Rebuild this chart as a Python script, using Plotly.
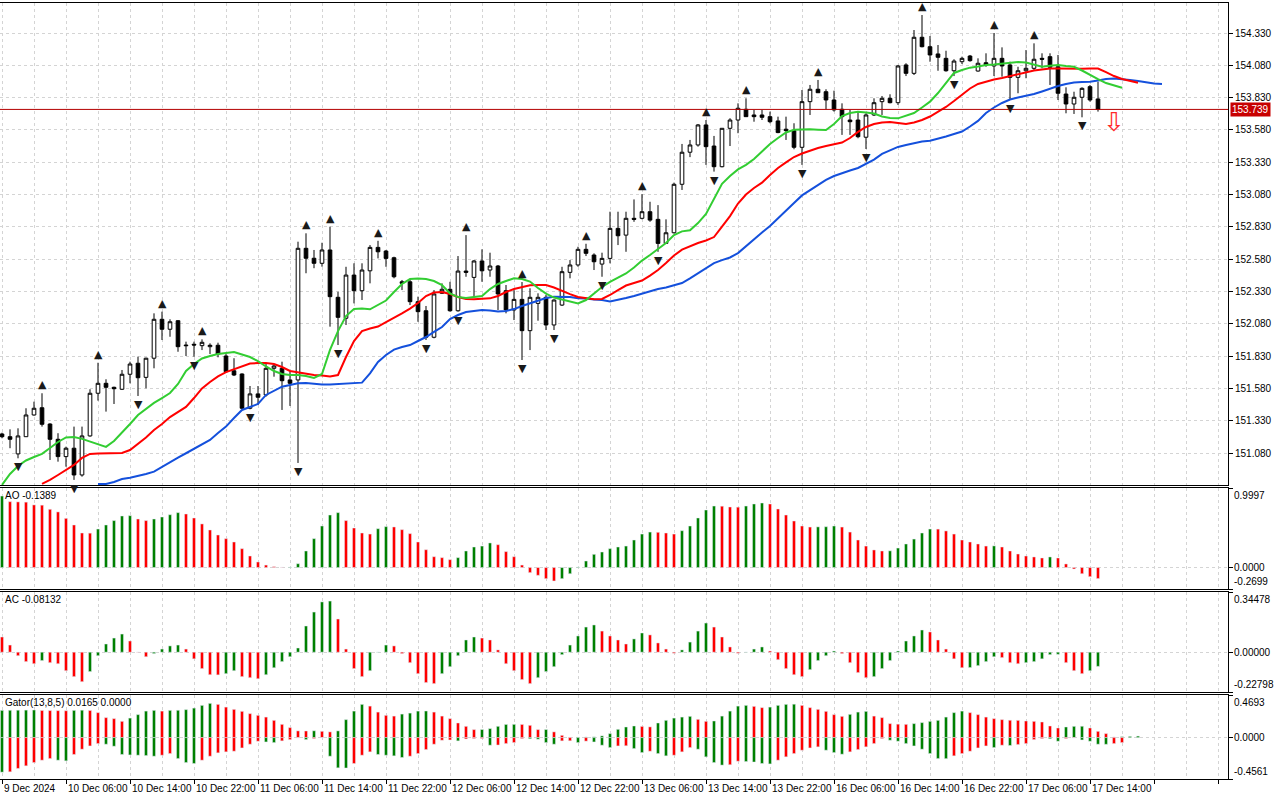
import plotly.graph_objects as go

# hourly bars, 9 Dec 22:00 .. 17 Dec 15:00 (index = bar number)
bar_open = [
    151.229, 151.208, 151.075, 151.208, 151.376, 151.432, 151.306, 151.188, 151.054, 151.119,
    150.912, 151.214, 151.544, 151.621, 151.590, 151.575, 151.691, 151.776, 151.667, 151.815,
    152.116, 152.039, 152.105, 151.917, 151.923, 151.912, 151.904, 151.915, 151.832, 151.718,
    151.693, 151.428, 151.539, 151.531, 151.737, 151.737, 151.647, 151.647, 152.665, 152.588,
    152.549, 152.652, 152.286, 152.124, 152.458, 152.337, 152.491, 152.672, 152.644, 152.592,
    152.406, 152.406, 152.252, 152.182, 151.977, 152.317, 152.348, 152.182, 152.489, 152.440,
    152.567, 152.497, 152.528, 152.337, 152.188, 152.270, 152.028, 152.239, 152.286, 152.072,
    152.226, 152.479, 152.536, 152.657, 152.613, 152.543, 152.587, 152.819, 152.767, 152.897,
    152.897, 152.948, 152.889, 152.703, 152.785, 153.160, 153.408, 153.464, 153.619, 153.456,
    153.296, 153.593, 153.657, 153.740, 153.696, 153.696, 153.683, 153.650, 153.586, 153.575,
    153.446, 153.799, 153.895, 153.876, 153.812, 153.740, 153.657, 153.657, 153.524, 153.696,
    153.799, 153.825, 153.791, 154.083, 154.018, 154.297, 154.224, 154.168, 154.134, 154.038,
    154.108, 154.152, 154.036, 154.100, 154.075, 154.134, 154.083, 153.987, 154.038, 154.057,
    154.134, 154.147, 154.069, 153.858, 153.781, 153.833, 153.915, 153.820,
]
bar_high = [
    151.239, 151.265, 151.273, 151.428, 151.479, 151.544, 151.312, 151.235, 151.131, 151.286,
    151.286, 151.575, 151.780, 151.652, 151.595, 151.724, 151.788, 151.827, 151.819, 152.162,
    152.175, 152.116, 152.110, 151.943, 151.943, 151.961, 151.930, 151.935, 151.847, 151.815,
    151.698, 151.600, 151.600, 151.776, 151.763, 151.788, 151.711, 152.716, 152.781, 152.652,
    152.708, 152.832, 152.329, 152.522, 152.549, 152.549, 152.690, 152.723, 152.652, 152.600,
    152.420, 152.420, 152.291, 152.219, 152.342, 152.394, 152.406, 152.605, 152.767, 152.574,
    152.657, 152.631, 152.536, 152.381, 152.342, 152.404, 152.356, 152.317, 152.304, 152.270,
    152.522, 152.574, 152.677, 152.700, 152.626, 152.631, 152.948, 152.948, 152.948, 153.043,
    153.084, 153.025, 152.999, 152.889, 153.173, 153.472, 153.503, 153.626, 153.657, 153.534,
    153.593, 153.671, 153.786, 153.825, 153.735, 153.735, 153.722, 153.683, 153.683, 153.632,
    153.889, 153.928, 153.967, 153.895, 153.884, 153.786, 153.735, 153.722, 153.709, 153.825,
    153.843, 153.856, 154.083, 154.096, 154.353, 154.469, 154.307, 154.237, 154.193, 154.127,
    154.147, 154.160, 154.134, 154.173, 154.330, 154.219, 154.108, 154.069, 154.198, 154.250,
    154.173, 154.173, 154.160, 153.910, 153.876, 153.910, 153.928, 153.953,
]
bar_low = [
    151.196, 151.119, 151.041, 151.208, 151.371, 151.286, 151.028, 151.015, 150.976, 150.874,
    150.899, 151.208, 151.487, 151.402, 151.461, 151.569, 151.621, 151.523, 151.582, 151.737,
    151.956, 151.981, 151.865, 151.832, 151.827, 151.878, 151.847, 151.822, 151.703, 151.677,
    151.420, 151.420, 151.453, 151.518, 151.672, 151.415, 151.446, 151.005, 152.472, 152.511,
    152.523, 152.059, 151.917, 152.072, 152.239, 152.265, 152.394, 152.587, 152.522, 152.433,
    152.342, 152.226, 152.097, 151.956, 151.969, 152.312, 152.175, 152.175, 152.445, 152.286,
    152.406, 152.445, 152.188, 152.162, 152.110, 151.801, 151.878, 152.105, 152.033, 152.033,
    152.219, 152.433, 152.522, 152.605, 152.497, 152.445, 152.549, 152.690, 152.638, 152.870,
    152.889, 152.870, 152.638, 152.703, 152.780, 153.116, 153.370, 153.451, 153.310, 153.258,
    153.291, 153.456, 153.555, 153.683, 153.644, 153.657, 153.632, 153.555, 153.503, 153.431,
    153.310, 153.696, 153.868, 153.740, 153.722, 153.542, 153.542, 153.516, 153.433, 153.688,
    153.696, 153.786, 153.773, 153.997, 154.005, 154.219, 154.108, 154.038, 154.031, 153.997,
    154.090, 154.108, 154.031, 154.069, 153.997, 153.992, 153.812, 153.864, 153.980, 154.044,
    154.057, 153.928, 153.812, 153.709, 153.704, 153.678, 153.799, 153.722,
]
bar_close = [
    151.208, 151.188, 151.214, 151.376, 151.428, 151.304, 151.188, 151.054, 151.119, 150.912,
    151.214, 151.544, 151.621, 151.590, 151.579, 151.691, 151.770, 151.664, 151.815, 152.116,
    152.039, 152.097, 151.904, 151.912, 151.917, 151.938, 151.915, 151.847, 151.711, 151.685,
    151.428, 151.539, 151.513, 151.737, 151.755, 151.641, 151.621, 152.665, 152.588, 152.549,
    152.652, 152.291, 152.131, 152.458, 152.337, 152.497, 152.672, 152.638, 152.587, 152.445,
    152.394, 152.252, 152.175, 151.977, 152.312, 152.348, 152.182, 152.489, 152.479, 152.567,
    152.491, 152.528, 152.312, 152.188, 152.270, 152.028, 152.286, 152.286, 152.072, 152.265,
    152.484, 152.536, 152.657, 152.626, 152.561, 152.587, 152.819, 152.762, 152.897, 152.889,
    152.948, 152.883, 152.703, 152.785, 153.160, 153.408, 153.464, 153.619, 153.451, 153.296,
    153.593, 153.657, 153.748, 153.683, 153.683, 153.678, 153.644, 153.560, 153.575, 153.446,
    153.799, 153.895, 153.868, 153.812, 153.735, 153.683, 153.644, 153.528, 153.696, 153.791,
    153.825, 153.791, 154.075, 154.018, 154.297, 154.224, 154.160, 154.142, 154.038, 154.113,
    154.134, 154.116, 154.096, 154.083, 154.134, 154.075, 153.987, 154.038, 154.057, 154.127,
    154.127, 154.065, 153.864, 153.781, 153.833, 153.902, 153.812, 153.739,
]

# Alligator lines (already shifted forward 8 / 5 / 3 bars)
jaw_start = 12
jaw = [
    150.843, 150.843, 150.858, 150.881, 150.891, 150.904, 150.920, 150.938, 150.974, 151.015,
    151.047, 151.080, 151.113, 151.148, 151.183, 151.237, 151.286, 151.353, 151.415, 151.438,
    151.461, 151.531, 151.565, 151.595, 151.608, 151.621, 151.624, 151.616, 151.612, 151.612,
    151.616, 151.620, 151.624, 151.626, 151.698, 151.786, 151.840, 151.882, 151.902, 151.917,
    151.948, 151.979, 152.018, 152.056, 152.118, 152.149, 152.172, 152.180, 152.188, 152.184,
    152.176, 152.180, 152.195, 152.219, 152.238, 152.261, 152.280, 152.291, 152.291, 152.288,
    152.278, 152.277, 152.269, 152.265, 152.253, 152.265, 152.280, 152.296, 152.315, 152.335,
    152.350, 152.362, 152.377, 152.396, 152.433, 152.474, 152.512, 152.551, 152.574, 152.594,
    152.628, 152.682, 152.737, 152.787, 152.837, 152.899, 152.957, 153.015, 153.074, 153.116,
    153.159, 153.194, 153.224, 153.248, 153.267, 153.286, 153.317, 153.351, 153.395, 153.422,
    153.449, 153.464, 153.480, 153.491, 153.497, 153.511, 153.530, 153.549, 153.568, 153.607,
    153.650, 153.711, 153.754, 153.789, 153.816, 153.831, 153.843, 153.858, 153.878, 153.901,
    153.920, 153.936, 153.947, 153.951, 153.953, 153.963, 153.974, 153.978, 153.974, 153.967,
    153.959, 153.947, 153.940, 153.936,
]
teeth_start = 5
teeth = [
    150.843, 150.874, 150.912, 150.951, 150.990,
    151.044, 151.075, 151.078, 151.080, 151.080, 151.082, 151.105, 151.152, 151.202, 151.260,
    151.306, 151.360, 151.399, 151.438, 151.507, 151.581, 151.631, 151.674, 151.708, 151.732,
    151.755, 151.774, 151.778, 151.778, 151.770, 151.747, 151.716, 151.705, 151.693, 151.685,
    151.682, 151.674, 151.685, 151.824, 151.948, 152.025, 152.045, 152.060, 152.095, 152.126,
    152.161, 152.199, 152.242, 152.296, 152.323, 152.327, 152.311, 152.288, 152.273, 152.271,
    152.275, 152.278, 152.296, 152.327, 152.350, 152.366, 152.379, 152.381, 152.381, 152.362,
    152.335, 152.311, 152.288, 152.277, 152.271, 152.273, 152.304, 152.342, 152.377, 152.396,
    152.416, 152.454, 152.497, 152.551, 152.609, 152.655, 152.682, 152.706, 152.725, 152.752,
    152.833, 152.914, 153.011, 153.081, 153.131, 153.173, 153.232, 153.286, 153.329, 153.371,
    153.398, 153.422, 153.441, 153.456, 153.468, 153.483, 153.518, 153.565, 153.603, 153.626,
    153.638, 153.642, 153.634, 153.626, 153.638, 153.657, 153.684, 153.723, 153.758, 153.804,
    153.854, 153.901, 153.936, 153.955, 153.970, 153.982, 153.997, 154.013, 154.028, 154.040,
    154.048, 154.055, 154.055, 154.054, 154.051, 154.054, 154.055, 154.055, 154.028, 153.997,
    153.974, 153.959, 153.946,
]
lips_start = 0
lips = [
    150.835, 150.920, 150.982, 151.024, 151.051, 151.075, 151.121, 151.167, 151.202, 151.206,
    151.191, 151.171, 151.148, 151.129, 151.175, 151.237, 151.306, 151.376, 151.422, 151.469,
    151.507, 151.546, 151.616, 151.716, 151.770, 151.813, 151.832, 151.847, 151.855, 151.863,
    151.844, 151.824, 151.793, 151.751, 151.716, 151.693, 151.685, 151.685, 151.678, 151.662,
    151.693, 151.879, 152.025, 152.141, 152.195, 152.199, 152.193, 152.226, 152.261, 152.327,
    152.389, 152.427, 152.431, 152.427, 152.412, 152.381, 152.317, 152.288, 152.280, 152.288,
    152.296, 152.350, 152.389, 152.412, 152.433, 152.427, 152.408, 152.358, 152.315, 152.284,
    152.269, 152.250, 152.239, 152.265, 152.315, 152.366, 152.406, 152.439, 152.470, 152.516,
    152.570, 152.613, 152.659, 152.706, 152.767, 152.796, 152.804, 152.860, 152.930, 153.046,
    153.163, 153.224, 153.275, 153.310, 153.356, 153.414, 153.472, 153.518, 153.561, 153.582,
    153.585, 153.585, 153.582, 153.580, 153.626, 153.688, 153.711, 153.721, 153.715, 153.707,
    153.684, 153.673, 153.670, 153.688, 153.711, 153.754, 153.799, 153.866, 153.943, 154.021,
    154.044, 154.062, 154.071, 154.083, 154.086, 154.093, 154.098, 154.106, 154.102, 154.083,
    154.069, 154.077, 154.083, 154.075, 154.069, 154.040, 154.005, 153.974, 153.943, 153.924,
    153.907,
]

# Bill Williams fractals (bar numbers)
fractal_up = [5, 12, 20, 25, 38, 41, 47, 58, 65, 73, 80, 88, 93, 102, 115, 124, 129]
fractal_down = [2, 9, 17, 24, 31, 37, 42, 53, 57, 65, 69, 75, 82, 89, 100, 108, 119, 126, 135]

sell_signal_bar = 139
sell_signal_price = 153.642

ao = [
    0.899, 0.828, 0.825, 0.822, 0.787, 0.784, 0.732, 0.699, 0.618, 0.535,
    0.434, 0.432, 0.484, 0.535, 0.590, 0.648, 0.652, 0.610, 0.590, 0.610,
    0.635, 0.664, 0.690, 0.673, 0.623, 0.548, 0.472, 0.409, 0.363, 0.321,
    0.237, 0.145, 0.070, 0.031, 0.011, 0.003, 0.005, 0.048, 0.208, 0.363,
    0.522, 0.660, 0.690, 0.590, 0.497, 0.434, 0.421, 0.488, 0.514, 0.510,
    0.476, 0.426, 0.321, 0.224, 0.136, 0.124, 0.099, 0.124, 0.208, 0.258,
    0.270, 0.309, 0.287, 0.200, 0.136, 0.031, -0.064, -0.098, -0.140, -0.169,
    -0.140, -0.078, 0.006, 0.082, 0.166, 0.195, 0.237, 0.258, 0.270, 0.346,
    0.421, 0.446, 0.443, 0.434, 0.421, 0.463, 0.522, 0.623, 0.723, 0.773,
    0.771, 0.761, 0.759, 0.773, 0.799, 0.811, 0.799, 0.736, 0.660, 0.585,
    0.522, 0.509, 0.511, 0.513, 0.522, 0.509, 0.446, 0.346, 0.270, 0.221,
    0.208, 0.210, 0.245, 0.296, 0.358, 0.434, 0.484, 0.483, 0.460, 0.421,
    0.346, 0.321, 0.296, 0.270, 0.272, 0.258, 0.208, 0.170, 0.145, 0.133,
    0.120, 0.133, 0.120, 0.045, -0.018, -0.078, -0.115, -0.1389,
]
ac = [
    0.087, 0.041, -0.020, -0.054, -0.066, -0.048, -0.060, -0.066, -0.106, -0.140,
    -0.169, -0.111, -0.020, 0.047, 0.081, 0.104, 0.064, 0.001, -0.026, -0.008,
    0.018, 0.036, 0.041, 0.018, -0.038, -0.094, -0.129, -0.130, -0.123, -0.106,
    -0.140, -0.146, -0.152, -0.129, -0.089, -0.054, -0.026, 0.024, 0.150, 0.230,
    0.288, 0.293, 0.190, 0.018, -0.094, -0.140, -0.106, 0.001, 0.041, 0.036,
    -0.008, -0.060, -0.123, -0.174, -0.180, -0.123, -0.083, -0.020, 0.070, 0.087,
    0.081, 0.070, 0.013, -0.066, -0.106, -0.157, -0.180, -0.146, -0.111, -0.083,
    -0.014, 0.041, 0.093, 0.144, 0.156, 0.121, 0.093, 0.070, 0.047, 0.076,
    0.110, 0.099, 0.053, 0.018, -0.006, 0.013, 0.058, 0.121, 0.167, 0.144,
    0.087, 0.030, -0.006, 0.001, 0.018, 0.030, 0.007, -0.043, -0.094, -0.129,
    -0.140, -0.100, -0.048, -0.020, 0.007, -0.008, -0.060, -0.117, -0.146, -0.140,
    -0.094, -0.048, 0.007, 0.064, 0.093, 0.127, 0.116, 0.070, 0.018, -0.038,
    -0.089, -0.088, -0.077, -0.054, -0.026, -0.031, -0.060, -0.066, -0.060, -0.054,
    -0.038, -0.014, -0.012, -0.060, -0.106, -0.123, -0.106, -0.08132,
]
gator_up = [
    0.300, 0.301, 0.302, 0.303, 0.304, 0.299, 0.298, 0.297, 0.296, 0.300,
    0.302, 0.299, 0.275, 0.220, 0.209, 0.179, 0.215, 0.253, 0.292, 0.300,
    0.292, 0.300, 0.301, 0.308, 0.325, 0.355, 0.377, 0.366, 0.336, 0.311,
    0.289, 0.264, 0.245, 0.226, 0.190, 0.146, 0.110, 0.074, 0.073, 0.075,
    0.069, 0.063, 0.074, 0.198, 0.292, 0.366, 0.347, 0.281, 0.245, 0.237,
    0.259, 0.270, 0.292, 0.293, 0.281, 0.237, 0.209, 0.161, 0.124, 0.088,
    0.089, 0.099, 0.124, 0.145, 0.146, 0.145, 0.135, 0.088, 0.089, 0.063,
    0.025, 0.003, 0.005, 0.007, 0.008, 0.019, 0.044, 0.091, 0.117, 0.128,
    0.123, 0.118, 0.161, 0.190, 0.215, 0.226, 0.234, 0.201, 0.179, 0.183,
    0.237, 0.292, 0.347, 0.355, 0.344, 0.330, 0.336, 0.355, 0.366, 0.368,
    0.355, 0.330, 0.311, 0.289, 0.253, 0.234, 0.256, 0.281, 0.289, 0.237,
    0.220, 0.154, 0.148, 0.146, 0.154, 0.165, 0.179, 0.190, 0.226, 0.275,
    0.292, 0.275, 0.253, 0.226, 0.209, 0.198, 0.191, 0.190, 0.183, 0.179,
    0.172, 0.128, 0.106, 0.117, 0.124, 0.125, 0.106, 0.069, 0.044, 0.007,
    0.010, 0.013, 0.0165,
]
gator_down = [
    -0.381, -0.377, -0.340, -0.311, -0.275, -0.249, -0.231, -0.249, -0.256, -0.186,
    -0.128, -0.092, -0.066, -0.073, -0.095, -0.186, -0.191, -0.194, -0.198, -0.205,
    -0.194, -0.176, -0.231, -0.275, -0.285, -0.249, -0.205, -0.168, -0.157, -0.150,
    -0.114, -0.073, -0.040, -0.048, -0.055, -0.036, -0.022, -0.003, -0.022, -0.011,
    -0.002, -0.205, -0.333, -0.335, -0.285, -0.194, -0.157, -0.186, -0.194, -0.201,
    -0.219, -0.205, -0.176, -0.132, -0.073, -0.029, -0.026, -0.036, -0.015, -0.011,
    -0.010, -0.084, -0.082, -0.066, -0.055, -0.011, -0.013, -0.018, -0.055, -0.073,
    -0.036, -0.035, -0.055, -0.039, -0.048, -0.084, -0.110, -0.092, -0.090, -0.121,
    -0.165, -0.150, -0.176, -0.201, -0.194, -0.157, -0.110, -0.128, -0.212, -0.275,
    -0.303, -0.299, -0.260, -0.264, -0.269, -0.285, -0.290, -0.249, -0.212, -0.176,
    -0.139, -0.114, -0.102, -0.139, -0.165, -0.183, -0.157, -0.132, -0.102, -0.066,
    -0.011, -0.029, -0.040, -0.066, -0.092, -0.128, -0.176, -0.231, -0.232, -0.201,
    -0.176, -0.150, -0.114, -0.092, -0.110, -0.084, -0.087, -0.077, -0.066, -0.022,
    -0.011, -0.013, -0.040, -0.011, -0.003, -0.026, -0.040, -0.073, -0.074, -0.066,
    -0.055,
]

price_ticks = [151.080, 151.330, 151.580, 151.830, 152.080, 152.330, 152.580,
               152.830, 153.080, 153.330, 153.580, 153.830, 154.080, 154.330]
ao_ticks = [0.9997, 0.0, -0.2699]
ac_ticks = [0.34478, 0.0, -0.22798]
gator_ticks = [0.4693, 0.0, -0.4561]

time_bars = [0, 8, 16, 24, 32, 40, 48, 56, 64, 72, 80, 88, 96, 104, 112, 120, 128, 136]
time_labels = ["9 Dec 2024", "10 Dec 06:00", "10 Dec 14:00", "10 Dec 22:00", "11 Dec 06:00",
               "11 Dec 14:00", "11 Dec 22:00", "12 Dec 06:00", "12 Dec 14:00", "12 Dec 22:00",
               "13 Dec 06:00", "13 Dec 14:00", "13 Dec 22:00", "16 Dec 06:00", "16 Dec 14:00",
               "16 Dec 22:00", "17 Dec 06:00", "17 Dec 14:00"]

GREEN = "#008000"
RED = "#FF0000"
GRID = "#D4D4D4"
FONT = "Liberation Sans"


def updown_colors(vals, first_up, by_size=False):
    # green when the bar grew against the previous one (by size for the gator)
    cols = []
    for k, v in enumerate(vals):
        if k == 0:
            up = first_up
        elif by_size:
            up = abs(v) > abs(vals[k - 1])
        else:
            up = v > vals[k - 1]
        cols.append(GREEN if up else RED)
    return cols


bars = list(range(len(bar_close)))

fig = go.Figure()

fig.add_trace(go.Candlestick(
    x=bars, open=bar_open, high=bar_high, low=bar_low, close=bar_close,
    increasing=dict(line=dict(color="black", width=1), fillcolor="white"),
    decreasing=dict(line=dict(color="black", width=1), fillcolor="black"),
    whiskerwidth=0, hoverinfo="skip", xaxis="x", yaxis="y",
))

for start, vals, col in [(jaw_start, jaw, "#1450DC"),
                         (teeth_start, teeth, "#FF0000"),
                         (lips_start, lips, "#32CD32")]:
    fig.add_trace(go.Scatter(
        x=list(range(start, start + len(vals))), y=vals, mode="lines",
        line=dict(color=col, width=2), hoverinfo="skip", xaxis="x", yaxis="y",
    ))

fig.add_trace(go.Bar(x=bars, y=ao, width=0.38, marker_color=updown_colors(ao, True),
                     xaxis="x2", yaxis="y2", hoverinfo="skip"))
fig.add_trace(go.Bar(x=bars, y=ac, width=0.38, marker_color=updown_colors(ac, False),
                     xaxis="x3", yaxis="y3", hoverinfo="skip"))
fig.add_trace(go.Bar(x=list(range(len(gator_up))), y=gator_up, width=0.38,
                     marker_color=updown_colors(gator_up, True, by_size=True),
                     xaxis="x4", yaxis="y4", hoverinfo="skip"))
fig.add_trace(go.Bar(x=list(range(len(gator_down))), y=gator_down, width=0.38,
                     marker_color=updown_colors(gator_down, True, by_size=True),
                     xaxis="x4", yaxis="y4", hoverinfo="skip"))

# fractal arrows
for b in fractal_up:
    fig.add_annotation(x=b, y=bar_high[b], xref="x", yref="y", text="▲", showarrow=False,
                       yanchor="bottom", yshift=0, font=dict(size=11, color="#1A1A1A", family="DejaVu Sans"))
for b in fractal_down:
    fig.add_annotation(x=b, y=bar_low[b], xref="x", yref="y", text="▼", showarrow=False,
                       yanchor="top", yshift=0, font=dict(size=11, color="#1A1A1A", family="DejaVu Sans"))

fig.add_annotation(x=sell_signal_bar, y=sell_signal_price, xref="x", yref="y", text="⇩",
                   showarrow=False, font=dict(size=26, color="#FF2A2A", family="DejaVu Sans"))

# last price line and tag
last = bar_close[-1]
fig.add_shape(type="line", xref="x domain", x0=0, x1=1, yref="y", y0=last, y1=last,
              line=dict(color="#B40000", width=1))
fig.add_annotation(x=1, xref="paper", xanchor="left", xshift=2, y=last, yref="y",
                   text=f"{last:.3f}", showarrow=False, bgcolor="#C80000", borderpad=1,
                   font=dict(size=10, color="white", family=FONT))

# indicator headers
fig.add_annotation(x=0, xref="paper", xanchor="left", xshift=3, y=1, yref="y2 domain", yanchor="top",
                   text=f"AO {ao[-1]:.4f}", showarrow=False, font=dict(size=10, color="black", family=FONT))
fig.add_annotation(x=0, xref="paper", xanchor="left", xshift=3, y=1, yref="y3 domain", yanchor="top",
                   text=f"AC {ac[-1]:.5f}", showarrow=False, font=dict(size=10, color="black", family=FONT))
fig.add_annotation(x=0, xref="paper", xanchor="left", xshift=3, y=1, yref="y4 domain", yanchor="top",
                   text=f"Gator(13,8,5) {gator_up[-1]:.4f} {0:.4f}", showarrow=False,
                   font=dict(size=10, color="black", family=FONT))

# indicator scale labels (MT places top/bottom labels inside the window)
for axis, ticks, fmt in [("y2", ao_ticks, "{:.4f}"), ("y3", ac_ticks, "{:.5f}"), ("y4", gator_ticks, "{:.4f}")]:
    for k, t in enumerate(ticks):
        anchor = ["top", "middle", "bottom"][k]
        fig.add_annotation(x=1, xref="paper", xanchor="left", xshift=4, y=t, yref=axis,
                           yanchor=anchor, text=fmt.format(t), showarrow=False,
                           font=dict(size=10, color="black", family=FONT))

# time labels start at their tick, as in the terminal
for b, lab in zip(time_bars, time_labels):
    fig.add_annotation(x=b, xref="x4", xanchor="left", y=0, yref="paper", yanchor="top", yshift=-2,
                       text=lab, showarrow=False, font=dict(size=10, color="black", family=FONT))

xr = [-0.25, 153.25]
xcommon = dict(range=xr, showticklabels=False, showgrid=True, gridcolor=GRID, griddash="3px,3px",
               tick0=0, dtick=4, ticks="", showline=True, mirror=True, linecolor="black",
               linewidth=1, zeroline=False, fixedrange=True)
ycommon = dict(side="right", showline=True, mirror=True, linecolor="black", linewidth=1,
               ticks="outside", ticklen=4, tickcolor="black", zeroline=False, showgrid=True,
               gridcolor=GRID, griddash="3px,3px", fixedrange=True)

H = 779.0
dom = lambda top, bot: [(H - bot) / H, (H - top) / H]

fig.update_layout(
    width=1280, height=800,
    margin=dict(l=0, r=52, t=0, b=21),
    paper_bgcolor="white", plot_bgcolor="white",
    showlegend=False, barmode="overlay", boxgap=0.35,
    font=dict(family=FONT, size=10, color="black"),
    xaxis=dict(xcommon, anchor="y", rangeslider=dict(visible=False)),
    xaxis2=dict(xcommon, anchor="y2"),
    xaxis3=dict(xcommon, anchor="y3"),
    xaxis4=dict(xcommon, anchor="y4", dtick=8, ticks="outside", ticklen=4, tickcolor="black",
                minor=dict(dtick=4, tick0=0, showgrid=True, gridcolor=GRID, griddash="3px,3px")),
    yaxis=dict(ycommon, anchor="x", domain=dom(3, 485), range=[150.8345, 154.562],
               tickvals=price_ticks, ticktext=[f"{t:.3f}" for t in price_ticks],
               tickfont=dict(size=10, family=FONT)),
    yaxis2=dict(ycommon, anchor="x2", domain=dom(488, 589), range=[ao_ticks[2], ao_ticks[0]],
                tickvals=ao_ticks, showticklabels=False),
    yaxis3=dict(ycommon, anchor="x3", domain=dom(592, 692), range=[ac_ticks[2], ac_ticks[0]],
                tickvals=ac_ticks, showticklabels=False),
    yaxis4=dict(ycommon, anchor="x4", domain=dom(695, 779), range=[gator_ticks[2], gator_ticks[0]],
                tickvals=gator_ticks, showticklabels=False),
)

fig.write_html("out.html", config={"displayModeBar": False},
               post_script="document.body.style.margin='0';document.body.style.overflow='hidden';")
